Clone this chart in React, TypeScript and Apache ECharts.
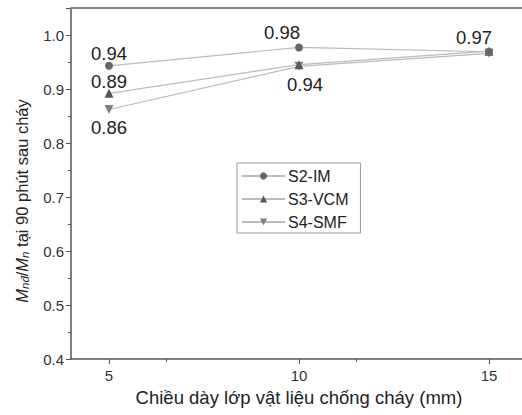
import React, { useEffect, useRef } from "react";
import * as echarts from "echarts";

const thickness = [5, 10, 15];
const s2IM = [0.943, 0.977, 0.969];
const s3VCM = [0.892, 0.945, 0.970];
const s4SMF = [0.862, 0.942, 0.966];
const seriesNames = ["S2-IM", "S3-VCM", "S4-SMF"];
const yAxisTitle = "{i|M}{sub|nđ}{n|/}{i|M}{sub|n}{n| tại 90 phút sau cháy}";
const xAxisTitle = "Chiều dày lớp vật liệu chống cháy (mm)";
// label text per point: [seriesIndex][pointIndex]
const labelTexts = [
  ["0.94", "0.98", "0.97"],
  ["0.89", "", ""],
  ["0.86", "0.94", ""],
];
const labelPos = [
  ["top", "top", "top"],
  ["top", "top", "top"],
  ["bottom", "bottom", "bottom"],
];
const labelOffsets = [
  [[0, 4], [-17, 2], [-15, 2]],
  [[0, 5], [0, 0], [0, 0]],
  [[0, 1], [6, 1], [0, 0]],
];

const FONT = "Liberation Sans, Arial, sans-serif";

export default function App() {
  const ref = useRef<HTMLDivElement>(null);
  useEffect(() => {
    if (!ref.current) return;
    const chart = echarts.init(ref.current, null, { renderer: "svg" });
    const values = [s2IM, s3VCM, s4SMF];
    const symbols = ["circle", "triangle", "triangle"];
    const rot = [0, 0, 180];
    const symColors = ["#666", "#555", "#808080"];
    const series = values.map((vals, si) => ({
      type: "line",
      name: seriesNames[si],
      data: vals.map((v, i) => ({
        value: [thickness[i], v],
        label: {
          show: labelTexts[si][i] !== "",
          position: labelPos[si][i],
          formatter: labelTexts[si][i],
          offset: labelOffsets[si][i],
          distance: 3,
          fontSize: 18.5,
          color: "#222",
          fontFamily: FONT,
        },
      })),
      symbol: symbols[si],
      symbolRotate: rot[si],
      symbolSize: si === 0 ? 8 : 9,
      itemStyle: { color: symColors[si] },
      lineStyle: { color: "#bbbbbb", width: 1.2 },
      z: 3 - si,
    }));
    chart.setOption({
      animation: false,
      textStyle: { fontFamily: FONT },
      grid: { left: 71, width: 456, top: 8, bottom: 56, outerBoundsMode: "none", containLabel: false },
      graphic: [
        {
          type: "text",
          x: 22,
          y: 201,
          rotation: Math.PI / 2,
          style: {
            text: yAxisTitle,
            align: "center",
            verticalAlign: "middle",
            fontFamily: FONT,
            rich: {
              i: { fontSize: 16.5, fontStyle: "italic", fill: "#222", fontFamily: FONT },
              sub: { fontSize: 11.5, fontStyle: "italic", fill: "#222", verticalAlign: "bottom", padding: [6, 0, 0, 0], fontFamily: FONT },
              n: { fontSize: 16.5, fill: "#222", fontFamily: FONT },
            },
          },
        },
      ],
      legend: {
        orient: "vertical",
        left: 237,
        top: 163,
        width: 126,
        padding: [5, 12, 3, 4],
        itemWidth: 43,
        itemHeight: 9,
        itemGap: 7,
        borderColor: "#999",
        borderWidth: 1,
        textStyle: { fontSize: 16, color: "#222", fontFamily: FONT, padding: [0, 0, 0, -2] },
        data: seriesNames,
      },
      xAxis: [
        {
          type: "value",
          min: 4,
          max: 16,
          interval: 5,
          name: xAxisTitle,
          nameLocation: "middle",
          nameGap: 21,
          nameTextStyle: { fontSize: 18.5, color: "#222", fontFamily: FONT, verticalAlign: "middle", padding: [0, 0, 0, 0] },
          axisLine: { lineStyle: { color: "#555", width: 1.5 } },
          axisTick: { show: true, length: 5, lineStyle: { color: "#555" }, customValues: [5, 10, 15] },
          minorTick: { show: true, splitNumber: 2, length: 3, lineStyle: { color: "#555" } },
          axisLabel: {
            fontSize: 15,
            color: "#333",
            margin: 9,
            customValues: [5, 10, 15],
            fontFamily: FONT,
          },
          splitLine: { show: false },
        },
        {
          type: "value",
          position: "top",
          min: 4,
          max: 16,
          axisLine: { show: true, lineStyle: { color: "#888", width: 2 } },
          axisTick: { show: false },
          axisLabel: { show: false },
          splitLine: { show: false },
        },
      ],
      yAxis: {
        type: "value",
        min: 0.4,
        max: 1.05,
        interval: 0.1,
        axisLine: { show: true, lineStyle: { color: "#555", width: 1.5 } },
        axisTick: { show: true, length: 5, lineStyle: { color: "#555" } },
        minorTick: { show: true, splitNumber: 2, length: 3, lineStyle: { color: "#555" } },
        axisLabel: {
          fontSize: 15,
          color: "#333",
          margin: 7,
          fontFamily: FONT,
          formatter: (v: number) => (Math.abs(v - 1.05) < 1e-6 ? "" : v.toFixed(1)),
        },
        splitLine: { show: false },
      },
      series,
    });
    return () => chart.dispose();
  }, []);
  return (
    <div
      ref={ref}
      style={{ position: "fixed", left: 0, top: 0, width: 522, height: 415, background: "#fff" }}
    />
  );
}
